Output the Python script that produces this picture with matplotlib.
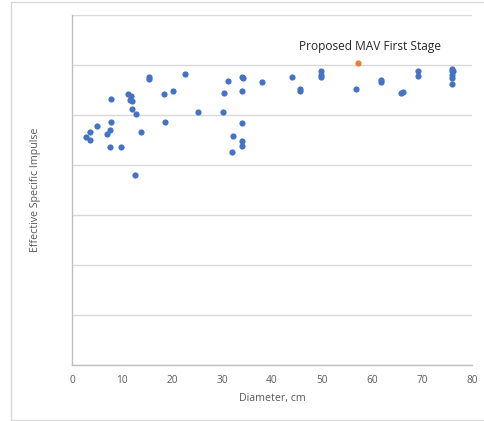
import matplotlib
matplotlib.use("Agg")
import matplotlib.pyplot as plt
from matplotlib.patches import Rectangle

diameter_cm = [2.7, 3.5, 3.6, 5.0, 7.7, 7.7, 7.5, 7.0, 7.5, 9.7,
               11.1, 11.8, 11.9, 11.6, 12.0, 12.8, 13.7, 12.5, 15.3, 15.3,
               18.3, 20.1, 22.6, 25.1, 18.6, 30.1, 30.3, 31.2, 33.9, 34.1,
               33.9, 37.9, 43.9, 45.5, 45.5, 49.8, 49.8, 49.8, 33.9, 32.1,
               33.9, 33.9, 31.9, 56.8, 61.8, 61.8, 65.8, 66.1, 69.1, 69.1,
               75.9, 75.9, 76.1, 75.9, 75.9, 75.9]
effective_isp = [4.56, 4.66, 4.51, 4.79, 5.33, 4.86, 4.71, 4.61, 4.36, 4.36,
                 5.42, 5.39, 5.28, 5.30, 5.13, 5.03, 4.66, 3.81, 5.76, 5.72,
                 5.42, 5.49, 5.82, 5.07, 4.86, 5.07, 5.44, 5.69, 5.77, 5.74,
                 5.49, 5.67, 5.77, 5.53, 5.49, 5.88, 5.81, 5.77, 4.84, 4.59,
                 4.49, 4.39, 4.26, 5.53, 5.70, 5.66, 5.45, 5.47, 5.88, 5.79,
                 5.92, 5.88, 5.89, 5.81, 5.75, 5.62]

proposed_diameter = [57.1]
proposed_isp = [6.04]
proposed_label = "Proposed MAV First Stage"

x_ticks = [0, 10, 20, 30, 40, 50, 60, 70, 80]
y_grid = [0, 1, 2, 3, 4, 5, 6, 7]

plt.rcParams['font.family'] = ['Open Sans', 'DejaVu Sans']

fig = plt.figure(figsize=(4.84, 4.21), dpi=100)
fig.patches.append(Rectangle((11/484, 1/421), 1.0, 418/421, transform=fig.transFigure,
                             fill=False, edgecolor='#d9d9d9', linewidth=1.0))
ax = fig.add_axes([72/484, (421-365)/421, 400/484, 350/421])

ax.scatter(diameter_cm, effective_isp, s=20, color='#4472C4', zorder=3, linewidths=0)
ax.scatter(proposed_diameter, proposed_isp, s=20, color='#ED7D31', zorder=3, linewidths=0)
ax.annotate(proposed_label, (proposed_diameter[0], proposed_isp[0]),
            xytext=(9, 7), textcoords='offset points', ha='center', va='bottom',
            fontsize=8.6, color='#262626')

ax.set_xlim(0, 80)
ax.set_ylim(0, 7)
ax.set_xticks(x_ticks)
ax.set_yticks(y_grid)
ax.set_yticklabels([])
ax.tick_params(axis='y', length=0)
ax.tick_params(axis='x', length=0, labelsize=7.3, labelcolor='#595959', pad=7)
ax.grid(axis='y', color='#d9d9d9', linewidth=1.0)
ax.set_axisbelow(True)
for s in ['top', 'right']:
    ax.spines[s].set_visible(False)
for s in ['left', 'bottom']:
    ax.spines[s].set_color('#bfbfbf')
    ax.spines[s].set_linewidth(1.0)

ax.set_xlabel("Diameter, cm", fontsize=7.7, color='#595959', labelpad=5)
ax.set_ylabel("Effective Specific Impulse", fontsize=7.7, color='#595959', labelpad=19)

fig.savefig("out.png", dpi=100)
